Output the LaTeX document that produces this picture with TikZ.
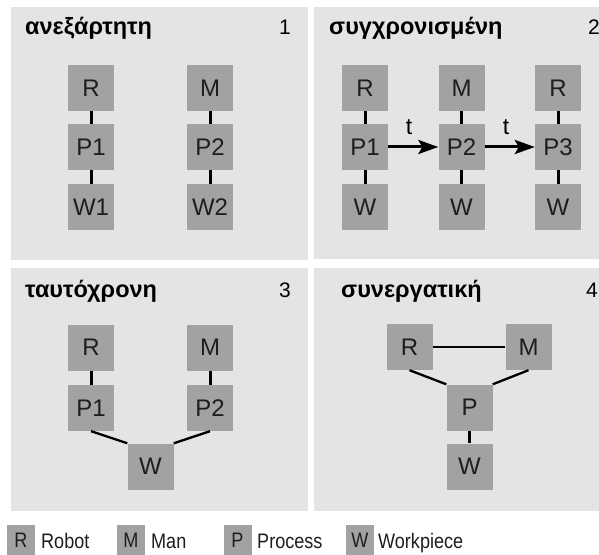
\documentclass[tikz,border=0pt]{standalone}
\usepackage{fontspec}
\setmainfont{Liberation Sans}
\newfontfamily\keyfont[FakeStretch=0.86]{Liberation Sans}
\usetikzlibrary{arrows.meta}
\definecolor{panelgray}{HTML}{E4E4E4}
\definecolor{boxgray}{HTML}{A2A2A2}
\definecolor{inkgray}{HTML}{1E1E1E}
\tikzset{
  panel/.style={fill=panelgray, draw=none},
  nbox/.style={fill=boxgray, draw=none, minimum width=46bp, minimum height=46bp,
    inner sep=0pt, text=inkgray, font=\fontsize{24bp}{26bp}\selectfont},
  lbox/.style={fill=boxgray, draw=none, minimum width=28bp, minimum height=30bp,
    inner sep=0pt, text=inkgray, font=\keyfont\fontsize{21bp}{23bp}\selectfont},
  ltext/.style={anchor=base west, inner sep=0pt, text=inkgray, font=\keyfont\fontsize{21bp}{23bp}\selectfont},
  ptitle/.style={anchor=base west, inner sep=0pt, font=\bfseries\fontsize{23.5bp}{25bp}\selectfont},
  pnum/.style={anchor=base east, inner sep=0pt, font=\fontsize{21bp}{23bp}\selectfont},
  vlink/.style={line width=3bp, black},
  dlink/.style={line width=2.3bp, black},
  flow/.style={line width=3bp, black, -{Stealth[length=20bp,width=14bp,inset=4bp]}},
  tlabel/.style={inner sep=0pt, font=\fontsize{23bp}{25bp}\selectfont}
}
\begin{document}
\begin{tikzpicture}[x=1bp,y=-1bp]
\useasboundingbox (0,0) rectangle (599,555);
\fill[white] (0,0) rectangle (599,555);

% four panels
\fill[panel] (11,7) rectangle (308,260);
\fill[panel] (314,7) rectangle (599,259);
\fill[panel] (11,268) rectangle (308,511);
\fill[panel] (314,268) rectangle (599,511);

% panel 1: independent
\node[ptitle] (t1) at (25,35) {ανεξάρτητη};
\node[pnum] (n1) at (291,35) {1};
\node[nbox] (a-r) at (91,88) {R};
\node[nbox] (a-p1) at (91,147) {P1};
\node[nbox] (a-w1) at (91,207) {W1};
\node[nbox] (a-m) at (210,88) {M};
\node[nbox] (a-p2) at (210,147) {P2};
\node[nbox] (a-w2) at (210,207) {W2};
\draw[vlink] (a-r) -- (a-p1);
\draw[vlink] (a-p1) -- (a-w1);
\draw[vlink] (a-m) -- (a-p2);
\draw[vlink] (a-p2) -- (a-w2);

% panel 2: synchronised
\node[ptitle] (t2) at (329,35) {συγχρονισμένη};
\node[pnum] (n2) at (600,35) {2};
\node[nbox] (b-r1) at (365,88) {R};
\node[nbox] (b-p1) at (365,147) {P1};
\node[nbox] (b-w1) at (365,207) {W};
\node[nbox] (b-m) at (461.5,88) {M};
\node[nbox] (b-p2) at (461.5,147) {P2};
\node[nbox] (b-w2) at (461.5,207) {W};
\node[nbox] (b-r3) at (558,88) {R};
\node[nbox] (b-p3) at (558,147) {P3};
\node[nbox] (b-w3) at (558,207) {W};
\draw[vlink] (b-r1) -- (b-p1);
\draw[vlink] (b-p1) -- (b-w1);
\draw[vlink] (b-m) -- (b-p2);
\draw[vlink] (b-p2) -- (b-w2);
\draw[vlink] (b-r3) -- (b-p3);
\draw[vlink] (b-p3) -- (b-w3);
\draw[flow] (b-p1) -- (b-p2);
\draw[flow] (b-p2) -- (b-p3);
\node[tlabel] (b-t1) at (409,127) {t};
\node[tlabel] (b-t2) at (506,127) {t};

% panel 3: simultaneous
\node[ptitle] (t3) at (25,297) {ταυτόχρονη};
\node[pnum] (n3) at (291,297) {3};
\node[nbox] (c-r) at (91,347.5) {R};
\node[nbox] (c-p1) at (91,408) {P1};
\node[nbox] (c-m) at (210,347.5) {M};
\node[nbox] (c-p2) at (210,408) {P2};
\node[nbox] (c-w) at (150.5,466.5) {W};
\draw[vlink] (c-r) -- (c-p1);
\draw[vlink] (c-m) -- (c-p2);
\draw[dlink] (c-p1.south) -- (c-w.north west);
\draw[dlink] (c-w.north east) -- (c-p2.south);

% panel 4: cooperative
\node[ptitle] (t4) at (341,297) {συνεργατική};
\node[pnum] (n4) at (598,297) {4};
\node[nbox] (d-r) at (409.5,347) {R};
\node[nbox] (d-m) at (528.5,347) {M};
\node[nbox] (d-p) at (469.5,407.5) {P};
\node[nbox] (d-w) at (469.5,466.5) {W};
\draw[dlink] (d-r) -- (d-m);
\draw[dlink] (d-r.south) -- (d-p.north west);
\draw[dlink] (d-m.south) -- (d-p.north east);
\draw[vlink] (d-p) -- (d-w);

% legend
\node[lbox] (k-r) at (21,540) {R};
\node[ltext] (k-rt) at (41,548) {Robot};
\node[lbox] (k-m) at (131,540) {M};
\node[ltext] (k-mt) at (151,548) {Man};
\node[lbox] (k-p) at (237.5,540) {P};
\node[ltext] (k-pt) at (257,548) {Process};
\node[lbox] (k-w) at (360,540) {W};
\node[ltext] (k-wt) at (378,548) {Workpiece};
\end{tikzpicture}
\end{document}
